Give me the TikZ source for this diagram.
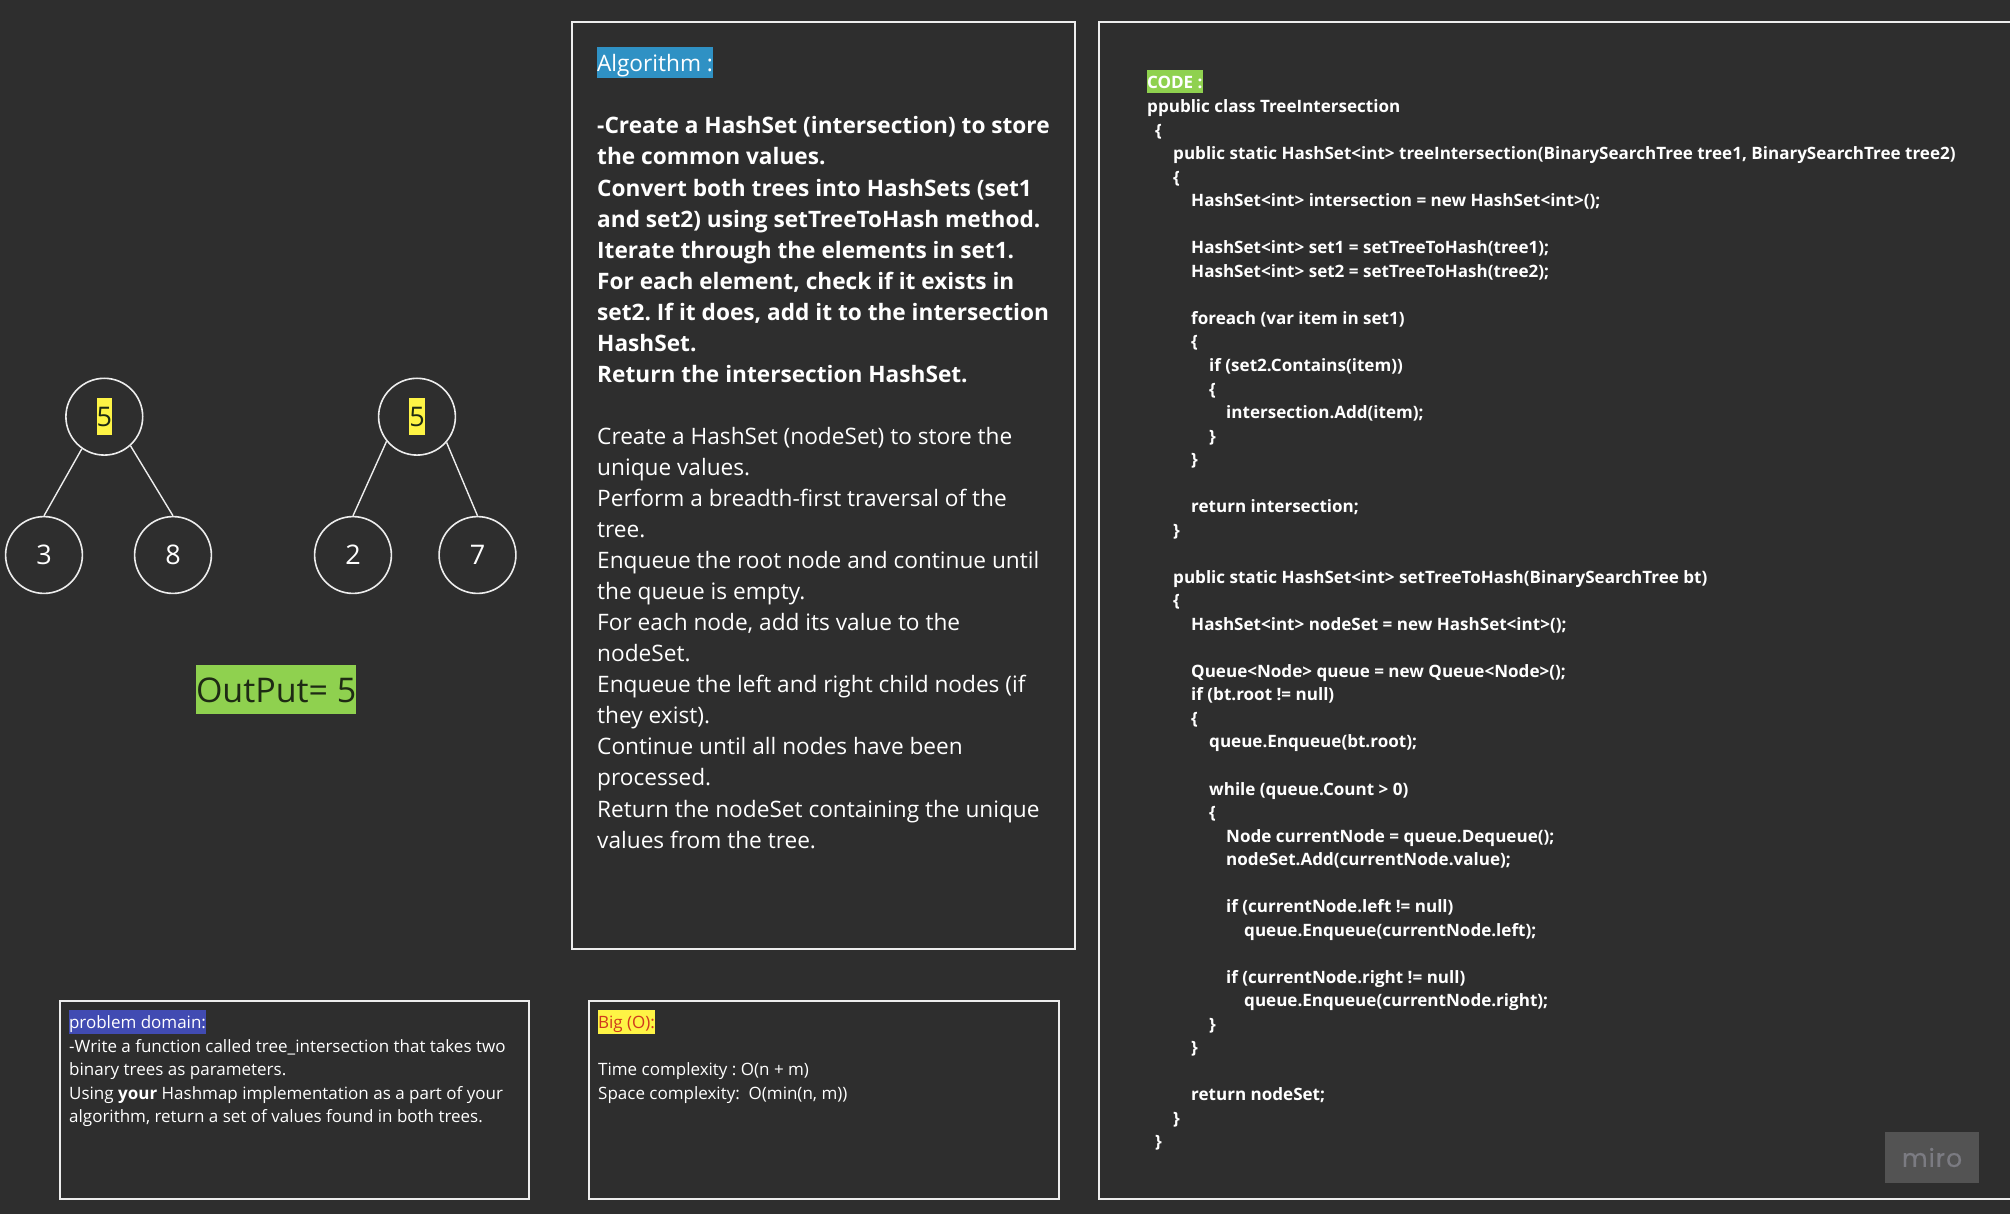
\documentclass[tikz,border=0pt]{standalone}
\usepackage{fontspec}
\setmainfont{Open Sans}
\newfontfamily\logofont[LetterSpace=4,FakeBold=0.5]{Poppins}
\definecolor{boardbg}{HTML}{2E2E2E}
\definecolor{linegray}{HTML}{EDEDED}
\definecolor{hlyellow}{HTML}{FEF445}
\definecolor{hlgreen}{HTML}{8FD14F}
\definecolor{hlblue}{HTML}{414BB2}
\definecolor{hlcyan}{HTML}{2F91C4}
\definecolor{bigored}{HTML}{D0391C}
\definecolor{darktext}{HTML}{1E2A14}
\definecolor{logobg}{HTML}{535353}
\definecolor{logotext}{HTML}{7B7B82}
\newcommand{\ind}[1]{\hspace*{#1pt}}
\frenchspacing

\begin{document}
\begin{tikzpicture}
[x=1pt,y=-1pt,
treenode/.style={circle,draw=linegray,line width=1.6pt,minimum size=76.8pt,inner sep=0pt,text=white,font=\fontsize{27}{34}\selectfont},
treelink/.style={draw=linegray,line width=1.4pt},
panel/.style={rectangle,draw=linegray,line width=2pt,anchor=north west,inner sep=0pt,outer sep=0pt},
hilite/.style={anchor=north west,inner sep=0pt,outer sep=0pt},
huge5/.style={font=\fontsize{27}{34}\selectfont,text height=28.7pt,text depth=8.3pt},
hugeout/.style={font=\fontsize{34}{44}\selectfont,text height=37.5pt,text depth=11pt},
bigline/.style={font=\fontsize{22.65}{31}\selectfont,text height=24.2pt,text depth=6.8pt},
smallline/.style={font=\fontsize{17}{23.5}\selectfont,text height=18.3pt,text depth=5.2pt},
codeline/.style={font=\bfseries\fontsize{17.05}{23.53}\selectfont},
textblock/.style={anchor=north west,inner sep=0pt,align=left,text=white}]
\useasboundingbox (0,0) rectangle (2010,1214);
\fill[boardbg] (0,0) rectangle (2010,1214);
% panels
\node[panel,minimum width=503pt,minimum height=927pt] (algobox) at (572,22) {};
\node[panel,minimum width=940pt,minimum height=1177pt] (codebox) at (1099,22) {};
\node[panel,minimum width=469.5pt,minimum height=198.5pt] (domainbox) at (59.5,1000.5) {};
\node[panel,minimum width=469.5pt,minimum height=198.5pt] (bigobox) at (589,1000.5) {};
% trees
\node[treenode] (a5) at (104.3,416.7) {};
\node[treenode] (a3) at (44,555) {3};
\node[treenode] (a8) at (173,555) {8};
\node[treenode] (b5) at (417,416.7) {};
\node[treenode] (b2) at (353,555) {2};
\node[treenode] (b7) at (477.5,555) {7};
\node[hilite,huge5,anchor=center,fill=hlyellow,text=darktext] (a5mark) at (a5.center) {5};
\node[hilite,huge5,anchor=center,fill=hlyellow,text=darktext] (b5mark) at (b5.center) {5};
\foreach \from/\to/\ang in {a5/a3/235,a5/a8/312,b5/b2/219,b5/b7/319}
\draw[treelink] (\from.\ang) -- (\to.north);
\node[hilite,hugeout,fill=hlgreen,text=darktext] (output) at (196,665) {OutPut= 5};
% algorithm
\node[hilite,bigline,fill=hlcyan,text=white] (algotitle) at (597,47) {Algorithm :};
\node[textblock,font=\fontsize{22.65}{31.05}\selectfont] (algotext) at (597,116.5) {\textbf{-Create a HashSet (intersection) to store}\\
\textbf{the common values.}\\
\textbf{Convert both trees into HashSets (set1}\\
\textbf{and set2) using setTreeToHash method.}\\
\textbf{Iterate through the elements in set1.}\\
\textbf{For each element, check if it exists in}\\
\textbf{set2. If it does, add it to the intersection}\\
\textbf{HashSet.}\\
\textbf{Return the intersection HashSet.}\\
\mbox{}\\
Create a HashSet (nodeSet) to store the\\
unique values.\\
Perform a breadth-first traversal of the\\
tree.\\
Enqueue the root node and continue until\\
the queue is empty.\\
For each node, add its value to the\\
nodeSet.\\
Enqueue the left and right child nodes (if\\
they exist).\\
Continue until all nodes have been\\
processed.\\
Return the nodeSet containing the unique\\
values from the tree.};
% problem domain
\node[hilite,smallline,fill=hlblue,text=white] (domaintitle) at (69,1010) {problem domain:};
\node[textblock,font=\fontsize{17}{23.5}\selectfont] (domaintext) at (69,1039) {-Write a function called tree\_intersection that takes two\\
binary trees as parameters.\\
Using \textbf{your} Hashmap implementation as a part of your\\
algorithm, return a set of values found in both trees.};
% big o
\node[hilite,smallline,fill=hlyellow,text=bigored] (bigotitle) at (598,1010) {Big (O):};
\node[textblock,font=\fontsize{17}{23.5}\selectfont] (bigotext) at (598,1062.7) {Time complexity : O(n + m)\\
Space complexity:\ \ O(min(n, m))};
% code
\node[hilite,codeline,text height=18.3pt,text depth=5.2pt,fill=hlgreen,text=white] (codetitle) at (1147,70) {CODE :};
\node[textblock,codeline] (codetext) at (1147,99.5) {ppublic class TreeIntersection\\
\ind{8}\{\\
\ind{26}public static HashSet<int> treeIntersection(BinarySearchTree tree1, BinarySearchTree tree2)\\
\ind{26}\{\\
\ind{44}HashSet<int> intersection = new HashSet<int>();\\
\mbox{}\\
\ind{44}HashSet<int> set1 = setTreeToHash(tree1);\\
\ind{44}HashSet<int> set2 = setTreeToHash(tree2);\\
\mbox{}\\
\ind{44}foreach (var item in set1)\\
\ind{44}\{\\
\ind{62}if (set2.Contains(item))\\
\ind{62}\{\\
\ind{79}intersection.Add(item);\\
\ind{62}\}\\
\ind{44}\}\\
\mbox{}\\
\ind{44}return intersection;\\
\ind{26}\}\\
\mbox{}\\
\ind{26}public static HashSet<int> setTreeToHash(BinarySearchTree bt)\\
\ind{26}\{\\
\ind{44}HashSet<int> nodeSet = new HashSet<int>();\\
\mbox{}\\
\ind{44}Queue<Node> queue = new Queue<Node>();\\
\ind{44}if (bt.root != null)\\
\ind{44}\{\\
\ind{62}queue.Enqueue(bt.root);\\
\mbox{}\\
\ind{62}while (queue.Count > 0)\\
\ind{62}\{\\
\ind{79}Node currentNode = queue.Dequeue();\\
\ind{79}nodeSet.Add(currentNode.value);\\
\mbox{}\\
\ind{79}if (currentNode.left != null)\\
\ind{97}queue.Enqueue(currentNode.left);\\
\mbox{}\\
\ind{79}if (currentNode.right != null)\\
\ind{97}queue.Enqueue(currentNode.right);\\
\ind{62}\}\\
\ind{44}\}\\
\mbox{}\\
\ind{44}return nodeSet;\\
\ind{26}\}\\
\ind{8}\}};
% logo
\node[fill=logobg,minimum width=94pt,minimum height=51pt,inner sep=0pt,text=logotext,font=\logofont\fontsize{25}{34}\selectfont] (logo) at (1932,1157.5) {miro};
\end{tikzpicture}
\end{document}
